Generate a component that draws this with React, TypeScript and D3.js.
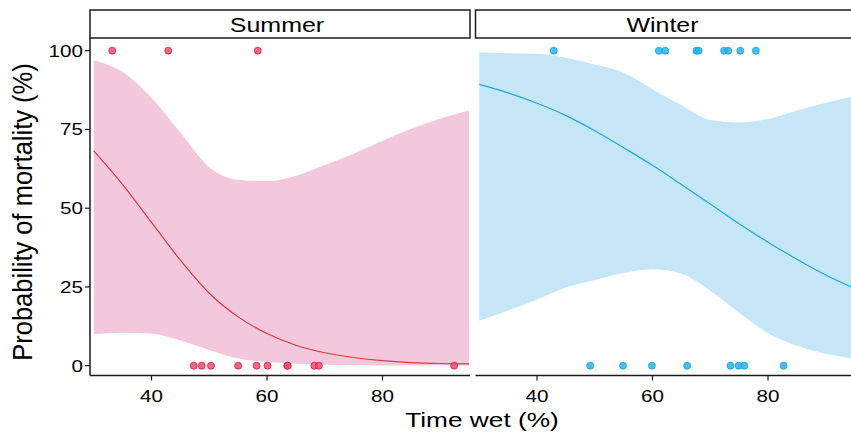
import React from 'react';
import * as d3 from 'd3';

// fitted curve grid (time wet, %)
const timeGrid = [30, 35, 40, 45, 50, 55, 60, 65, 70, 75, 80, 85, 90, 95];

const summerFit = [68.2, 57.5, 45.5, 33.5, 23, 15.5, 10.2, 6.5, 4.1, 2.6, 1.6, 1.0, 0.7, 0.6];
const summerUpper = [97, 93.2, 85, 74, 63, 59, 58.6, 60.3, 63.7, 67.3, 71.4, 75.2, 78.5, 81];
const summerLower = [10.1, 10.5, 10.2, 8, 5, 2.3, 1.2, 0.6, 0.3, 0.2, 0.1, 0.1, 0.1, 0.1];

const winterFit = [89.3, 86.6, 83.3, 79.4, 74.6, 69.2, 63.6, 57.5, 51.3, 45.1, 39.2, 33.8, 28.8, 24.5];
const winterUpper = [99.4, 99.2, 99, 97.8, 95.6, 93, 87.8, 82.7, 78, 77.2, 78.3, 81, 83.5, 85.5];
const winterLower = [14.3, 17.5, 21, 24.8, 27.2, 29.4, 30.6, 29.2, 23.8, 16.8, 10.3, 6.3, 3.8, 2.2];

// observed individuals: died (100) / survived (0)
const summerDied = [33.2, 42.9, 58.4];
const summerSurvived = [47.3, 48.7, 50.3, 55.0, 58.2, 60.1, 63.5, 63.6, 68.2, 69.0, 92.4];
const winterDied = [42.9, 61.1, 62.2, 67.6, 68.0, 72.4, 73.1, 75.2, 77.9];
const winterSurvived = [49.2, 54.9, 59.9, 66.0, 73.5, 74.9, 75.9, 82.7];

const xTicks = [40, 60, 80];
const yTicks = [0, 25, 50, 75, 100];

const font = '"Liberation Sans", Arial, Helvetica, sans-serif';
const stretch = 1.25;

const panelW = 380;
const top = 38;
const bottom = 375.5;

const x = d3.scaleLinear().domain([29.35, 95.15]).range([0, panelW]);
const y = d3.scaleLinear().domain([0, 100]).range([365.7, 50.7]);

const Txt = ({ x: tx, y: ty, size, anchor = 'middle', children }: any) => (
  <text
    transform={`translate(${tx},${ty}) scale(${stretch},1)`}
    fontSize={size}
    fontFamily={font}
    textAnchor={anchor}
    fill="#000"
  >
    {children}
  </text>
);

const panels = [
  {
    name: 'Summer', left: 90, fit: summerFit, upper: summerUpper, lower: summerLower,
    died: summerDied, survived: summerSurvived,
    band: '#f4c8dc', line: '#e0363f', pt: '#ea4d6f', ptStroke: '#de1b48', axisLeft: true,
  },
  {
    name: 'Winter', left: 475.5, fit: winterFit, upper: winterUpper, lower: winterLower,
    died: winterDied, survived: winterSurvived,
    band: '#c4e6f7', line: '#1ea7de', pt: '#2cb1e6', ptStroke: '#14a3dd', axisLeft: false,
  },
];

const App = () => {
  const area = d3.area<number>()
    .x((_, i) => x(timeGrid[i]))
    .curve(d3.curveMonotoneX);
  const line = d3.line<number>()
    .x((_, i) => x(timeGrid[i]))
    .y(d => y(d))
    .curve(d3.curveMonotoneX);

  return (
    <div style={{ position: 'absolute', left: 0, top: 0 }}>
      <svg width={851} height={435} style={{ display: 'block', background: '#fff' }}>
        {panels.map(p => {
          const ribbon = area
            .y0((_, i) => y(p.lower[i]))
            .y1((_, i) => y(p.upper[i]))(p.fit);
          return (
            <g key={p.name} transform={`translate(${p.left},0)`}>
              {/* strip */}
              <rect x={0} y={10} width={panelW} height={top - 10} fill="#fff" stroke="#1a1a1a" strokeWidth={1.5} />
              <Txt x={panelW / 2 - 3} y={31.5} size={20}>{p.name}</Txt>

              <path d={ribbon || ''} fill={p.band} />
              <path d={line(p.fit) || ''} fill="none" stroke={p.line} strokeWidth={1.2} />

              {p.died.map((t, i) => (
                <circle key={'d' + i} cx={x(t)} cy={y(100)} r={3.5} fill={p.pt} fillOpacity={0.85} stroke={p.ptStroke} strokeWidth={0.8} />
              ))}
              {p.survived.map((t, i) => (
                <circle key={'s' + i} cx={x(t)} cy={y(0)} r={3.5} fill={p.pt} fillOpacity={0.85} stroke={p.ptStroke} strokeWidth={0.8} />
              ))}

              {/* axes */}
              <line x1={0} x2={panelW} y1={bottom} y2={bottom} stroke="#1a1a1a" strokeWidth={1.5} />
              {xTicks.map(t => (
                <g key={t}>
                  <line x1={x(t)} x2={x(t)} y1={bottom} y2={bottom + 5} stroke="#1a1a1a" strokeWidth={1.2} />
                  <Txt x={x(t)} y={401.7} size={16.5}>{t}</Txt>
                </g>
              ))}
              {p.axisLeft && (
                <g>
                  <line x1={0} x2={0} y1={top} y2={bottom} stroke="#1a1a1a" strokeWidth={1.5} />
                  {yTicks.map(t => (
                    <g key={t}>
                      <line x1={-5} x2={0} y1={y(t)} y2={y(t)} stroke="#1a1a1a" strokeWidth={1.2} />
                      <Txt x={-7} y={y(t) + 6} size={16.5} anchor="end">{t}</Txt>
                    </g>
                  ))}
                </g>
              )}
            </g>
          );
        })}

        <Txt x={482} y={426.7} size={21}>Time wet (%)</Txt>
        <text
          transform="translate(32,212) scale(1.12,1) rotate(-90)"
          fontSize={25.5}
          fontFamily={font}
          textAnchor="middle"
          fill="#000"
        >
          Probability of mortality (%)
        </text>
      </svg>
    </div>
  );
};

export default App;
